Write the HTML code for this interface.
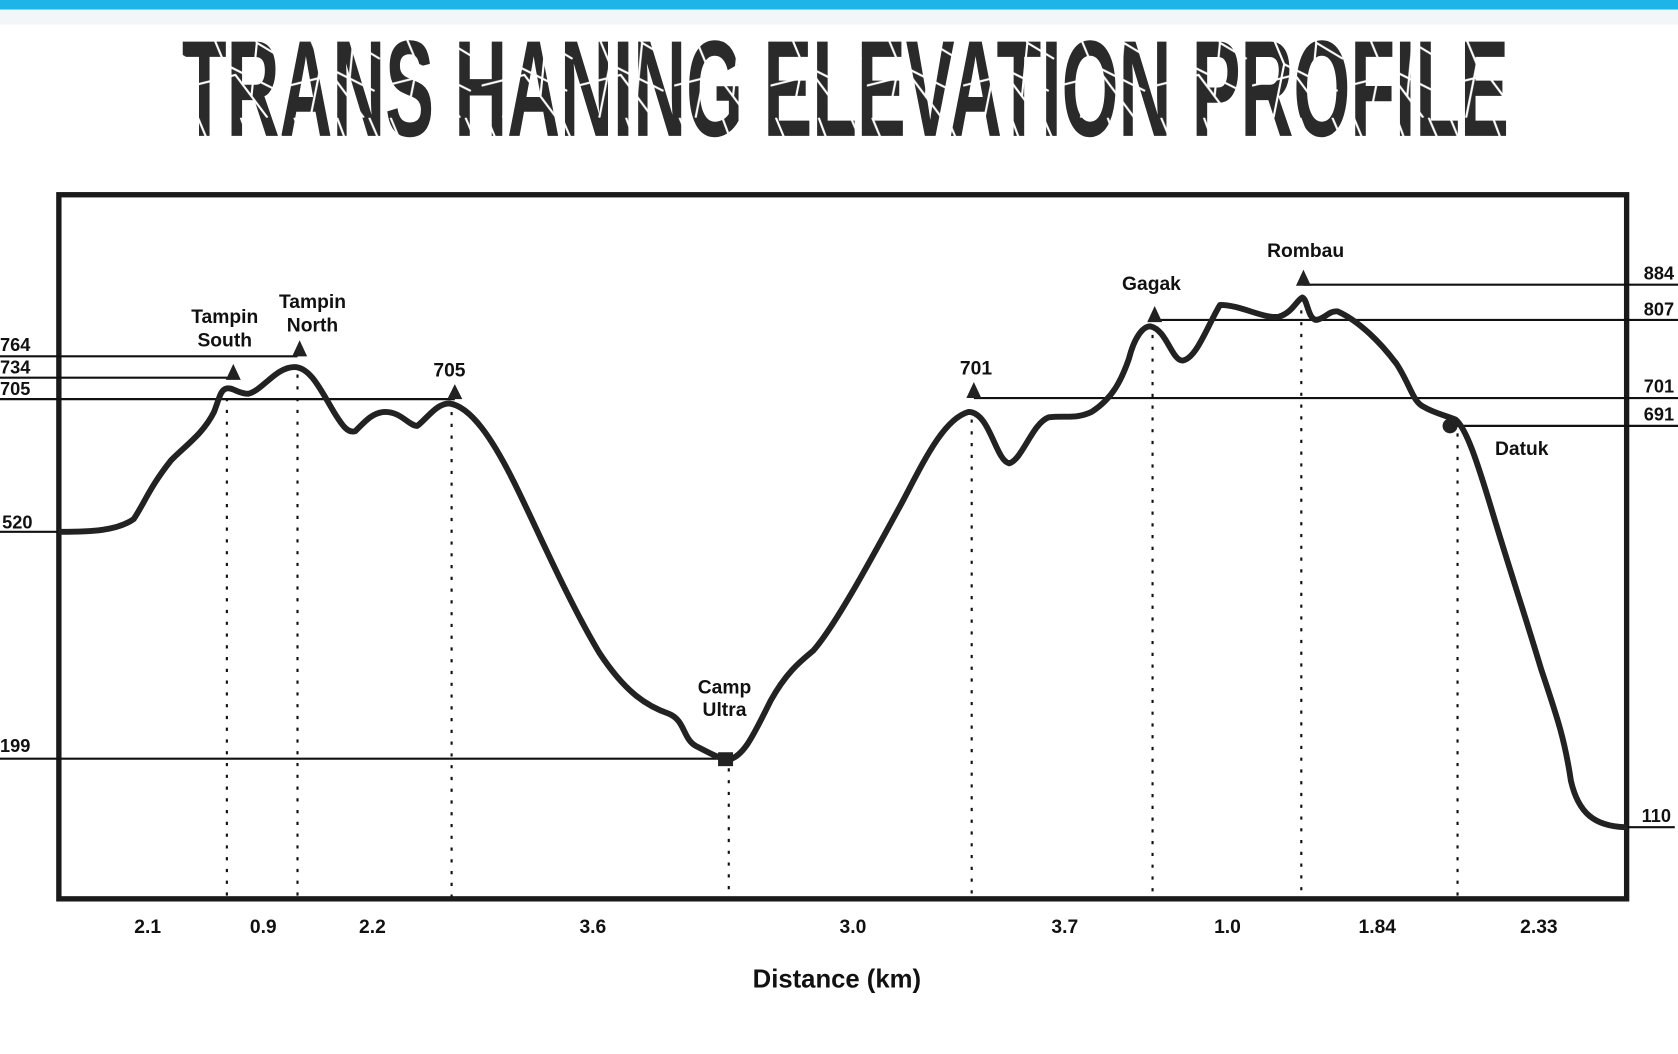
<!DOCTYPE html>
<html><head><meta charset="utf-8"><style>
html,body{margin:0;padding:0;background:#fff;}
svg{display:block;}
</style></head><body>
<svg width="1678" height="1054" viewBox="0 0 1568 985" preserveAspectRatio="none" xmlns="http://www.w3.org/2000/svg" font-family="Liberation Sans, sans-serif">
<defs>
<clipPath id="tc"><text x="170" y="127" font-size="128" font-weight="bold" textLength="1240" lengthAdjust="spacingAndGlyphs" font-family="Liberation Sans Narrow, Liberation Sans, sans-serif">TRANS HANING ELEVATION PROFILE</text></clipPath>
<pattern id="cr" width="90" height="110" patternUnits="userSpaceOnUse">
<path d="M5,0 L30,60 L20,110 M45,0 L60,40 L85,55 M0,80 L40,70 L70,110 M60,40 L55,90 M15,30 L50,25 M75,0 L88,30 M30,60 L80,85" stroke="#fff" stroke-width="2" fill="none"/>
</pattern>
</defs>
<rect x="0" y="0" width="1568" height="985" fill="#fff"/>
<rect x="0" y="0" width="1568" height="9" fill="#1fb4e8"/>
<rect x="0" y="9" width="1568" height="14" fill="#f3f6f8"/>
<g clip-path="url(#tc)">
<rect x="160" y="20" width="1260" height="115" fill="#2a2a2a"/>
<rect x="160" y="20" width="1260" height="115" fill="url(#cr)"/>
</g>

<rect x="55" y="182" width="1465" height="658" fill="none" stroke="#1a1a1a" stroke-width="5"/>

<g stroke="#111" stroke-width="2" fill="none">
<line x1="0" y1="333" x2="278" y2="333"/>
<line x1="0" y1="353" x2="218" y2="353"/>
<line x1="0" y1="373" x2="425" y2="373"/>
<line x1="0" y1="497" x2="57" y2="497"/>
<line x1="0" y1="709" x2="678" y2="709"/>
<line x1="1218" y1="266" x2="1568" y2="266"/>
<line x1="1080" y1="299" x2="1568" y2="299"/>
<line x1="910" y1="372" x2="1568" y2="372"/>
<line x1="1360" y1="398" x2="1568" y2="398"/>
<line x1="1518" y1="773" x2="1565" y2="773"/>
</g>
<g stroke="#111" stroke-width="2" stroke-dasharray="3,8">
<line x1="212" y1="372" x2="212" y2="838"/>
<line x1="278" y1="350" x2="278" y2="838"/>
<line x1="422" y1="385" x2="422" y2="838"/>
<line x1="681" y1="718" x2="681" y2="838"/>
<line x1="908" y1="392" x2="908" y2="838"/>
<line x1="1077" y1="313" x2="1077" y2="838"/>
<line x1="1216" y1="290" x2="1216" y2="838"/>
<line x1="1362" y1="405" x2="1362" y2="838"/>
</g>

<path fill="none" stroke="#222" stroke-width="5.5" stroke-linejoin="round" stroke-linecap="round" d="M57,497 C85,497 110,496 125,485 C135,470 140,455 160,430 C175,415 190,405 200,385 C205,372 206,364 212,363 C218,362 222,368 232,368 C245,365 258,343 275,343 C290,343 300,365 312,385 C320,398 325,405 332,403 C340,395 348,385 360,385 C375,385 382,398 390,398 C400,390 408,377 420,377 C440,380 460,410 480,450 C500,490 530,560 560,610 C585,648 605,660 625,667 C640,673 638,690 650,697 C662,703 670,708 680,710 C695,708 705,685 720,655 C735,628 748,618 760,608 C780,585 810,530 840,475 C860,438 880,392 905,385 C925,385 930,430 943,433 C955,430 965,395 980,390 C995,388 1005,392 1020,385 C1040,372 1048,355 1055,335 C1060,315 1068,305 1075,305 C1090,308 1095,337 1105,337 C1118,335 1128,305 1140,285 C1160,285 1180,298 1195,296 C1208,292 1212,280 1217,278 C1222,280 1222,298 1230,299 C1238,298 1242,290 1250,291 C1270,300 1290,320 1305,340 C1318,360 1320,375 1330,380 C1340,386 1350,388 1360,392 C1370,400 1380,430 1395,480 C1410,530 1425,575 1440,625 C1455,670 1462,690 1468,730 C1475,760 1490,772 1518,773"/>

<g fill="#222">
<polygon points="211,355 225,355 218,340"/>
<polygon points="273,333 287,333 280,318"/>
<polygon points="418,373 432,373 425,359"/>
<polygon points="903,372 917,372 910,357"/>
<polygon points="1072,301 1086,301 1079,286"/>
<polygon points="1211,267 1225,267 1218,252"/>
<circle cx="1355" cy="398" r="7"/>
<rect x="671" y="703" width="14" height="13"/>
</g>

<g font-size="17" fill="#111" font-weight="bold">
<text x="0" y="328">764</text>
<text x="0" y="349">734</text>
<text x="0" y="369">705</text>
<text x="2" y="494">520</text>
<text x="0" y="703">199</text>
<text x="1536" y="261">884</text>
<text x="1536" y="295">807</text>
<text x="1536" y="367">701</text>
<text x="1536" y="393">691</text>
<text x="1534" y="768">110</text>
</g>
<g font-size="18" fill="#111" font-weight="bold" text-anchor="middle">
<text x="210" y="302">Tampin</text><text x="210" y="324">South</text>
<text x="292" y="288">Tampin</text><text x="292" y="310">North</text>
<text x="420" y="352">705</text>
<text x="912" y="350">701</text>
<text x="1076" y="271">Gagak</text>
<text x="1220" y="240">Rombau</text>
<text x="1422" y="425">Datuk</text>
<text x="677" y="648">Camp</text><text x="677" y="669">Ultra</text>
<text x="138" y="872">2.1</text>
<text x="246" y="872">0.9</text>
<text x="348" y="872">2.2</text>
<text x="554" y="872">3.6</text>
<text x="797" y="872">3.0</text>
<text x="995" y="872">3.7</text>
<text x="1147" y="872">1.0</text>
<text x="1287" y="872">1.84</text>
<text x="1438" y="872">2.33</text>
<text x="782" y="923" font-size="24">Distance (km)</text>
</g>
</svg>
</body></html>
